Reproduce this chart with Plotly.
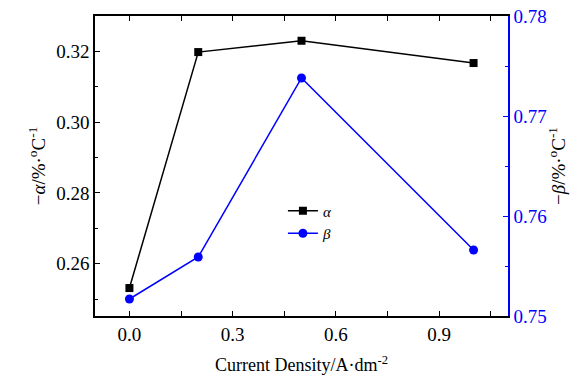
import plotly.graph_objects as go

current_density = [0.0, 0.2, 0.5, 1.0]
alpha_vals = [0.2531, 0.3198, 0.3230, 0.3167]
beta_vals = [0.7517, 0.7559, 0.7738, 0.7566]

FONT = "Liberation Serif"
BLUE = "#0000ff"

fig = go.Figure()
fig.add_trace(go.Scatter(x=current_density, y=alpha_vals, mode="lines+markers",
                         name="<i>α</i>", line=dict(color="black", width=1.5),
                         marker=dict(symbol="square", size=8, color="black")))
fig.add_trace(go.Scatter(x=current_density, y=beta_vals, mode="lines+markers",
                         name="<i>β</i>", yaxis="y2", line=dict(color=BLUE, width=1.5),
                         marker=dict(symbol="circle", size=9, color=BLUE)))

fig.update_layout(
    width=588, height=379,
    margin=dict(l=95, r=80, t=16, b=63, autoexpand=False),
    plot_bgcolor="white", paper_bgcolor="white",
    font=dict(family=FONT, size=19, color="black"),
    showlegend=True,
    legend=dict(x=0.455, y=0.405, xanchor="left", yanchor="top",
                bgcolor="rgba(0,0,0,0)", font=dict(size=15),
                itemwidth=30, tracegroupgap=0),
    xaxis=dict(range=[-0.1, 1.1], tickvals=[0.0, 0.3, 0.6, 0.9],
               ticktext=["0.0", "0.3", "0.6", "0.9"], automargin=False,
               showline=True, linecolor="black", linewidth=1.5, mirror="allticks",
               ticks="inside", ticklen=5, tickwidth=1.2, tickcolor="black",
               minor=dict(tickvals=[0.15, 0.45, 0.75, 1.05], ticks="inside", ticklen=3, tickcolor="black"),
               showgrid=False, zeroline=False,
               title=dict(text="Current Density/A·dm<sup>-2</sup>", font=dict(size=18), standoff=15)),
    yaxis=dict(range=[0.2452, 0.330], tickvals=[0.26, 0.28, 0.30, 0.32],
               ticktext=["0.26", "0.28", "0.30", "0.32"], automargin=False,
               showline=True, linecolor="black", linewidth=1.5,
               ticks="inside", ticklen=5, tickwidth=1.2, tickcolor="black",
               minor=dict(tickvals=[0.25, 0.27, 0.29, 0.31], ticks="inside", ticklen=3, tickcolor="black"),
               showgrid=False, zeroline=False,
               title=dict(text="−<i>α</i>/%·<sup>o</sup>C<sup>-1</sup>", font=dict(size=19), standoff=6)),
    yaxis2=dict(range=[0.75, 0.78], overlaying="y", side="right", automargin=False,
                tickvals=[0.75, 0.76, 0.77, 0.78], ticktext=["0.75", "0.76", "0.77", "0.78"],
                showline=True, linecolor=BLUE, linewidth=1.5,
                ticks="inside", ticklen=5, tickwidth=1.2, tickcolor=BLUE,
                minor=dict(tickvals=[0.755, 0.765, 0.775], ticks="inside", ticklen=3, tickcolor=BLUE),
                tickfont=dict(color=BLUE, size=19),
                showgrid=False, zeroline=False,
                title=dict(text="−<i>β</i>/%·<sup>o</sup>C<sup>-1</sup>", font=dict(size=19, color="black"), standoff=6)),
)

fig.write_html("out.html", config={"displayModeBar": False},
               post_script="document.body.style.margin='0';document.body.style.overflow='hidden';")
